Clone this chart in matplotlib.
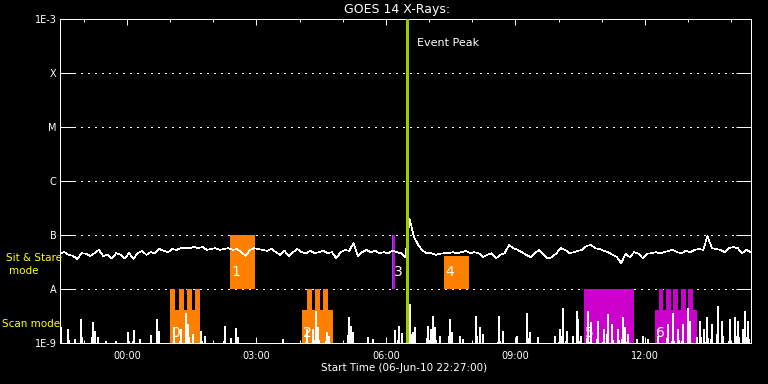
import numpy as np
import matplotlib
matplotlib.use('Agg')
import matplotlib.pyplot as plt

# time axis: hours since 06-Jun-10 22:27:00
start_offset = 93 / 60.0          # 00:00 is 93 min after start
hour_labels = ['00:00', '03:00', '06:00', '09:00', '12:00']
flux_labels = ['1E-9', 'A', 'B', 'C', 'M', 'X', '1E-3']
flux_levels = [1e-9, 1e-8, 1e-7, 1e-6, 1e-5, 1e-4, 1e-3]

# sit & stare light curve, one sample each 6 min, units of 1e-8 W/m^2
sit_flux = [
    4.6, 4.8, 4.3, 4.1, 3.6, 4.6, 4.5, 4.1, 4.6, 5.3,
    4.1, 4.3, 3.7, 4.6, 4.3, 3.7, 4.6, 3.6, 4.6, 5.1,
    4.3, 4.8, 4.6, 5.5, 5.1, 4.8, 5.5, 5.3, 5.7, 5.7,
    5.7, 6.0, 5.7, 6.0, 5.3, 5.5, 5.7, 5.3, 5.5, 5.7,
    5.3, 5.5, 4.8, 4.1, 5.3, 5.7, 5.5, 5.3, 5.1, 5.5,
    4.8, 4.3, 5.1, 4.1, 4.8, 5.5, 4.8, 4.6, 5.1, 4.6,
    4.8, 5.1, 4.6, 4.8, 3.7, 4.8, 5.3, 5.1, 7.1, 4.1,
    4.8, 5.3, 4.8, 5.1, 4.6, 4.8, 4.6, 5.1, 4.8, 4.6,
    3.9, 19.8, 9.2, 6.5, 5.1, 4.6, 4.6, 4.3, 4.5, 4.6,
    4.6, 4.8, 4.6, 4.8, 5.1, 4.6, 4.8, 4.6, 3.9, 4.3,
    4.6, 3.7, 4.3, 4.6, 6.5, 5.7, 5.3, 4.8, 4.3, 3.9,
    4.6, 5.3, 4.3, 3.7, 3.9, 4.6, 5.7, 5.3, 4.6, 4.8,
    5.1, 5.3, 6.3, 6.5, 5.7, 5.5, 5.1, 4.8, 4.3, 3.9,
    3.0, 4.5, 3.9, 4.8, 4.5, 3.7, 4.5, 4.6, 4.8, 4.6,
    4.8, 5.1, 5.3, 4.8, 4.6, 5.1, 4.8, 5.3, 5.5, 5.3,
    9.6, 5.7, 5.5, 5.3, 4.8, 5.7, 6.0, 5.7, 4.6, 5.3, 4.8,
]

# scan mode spikes: (hour, peak in units of 1e-9 W/m^2)
scan_peaks = [
    (0.02, 1.90), (0.19, 1.74), (0.35, 1.14), (0.49, 2.67), (0.76, 2.35),
    (0.81, 1.60), (0.88, 1.24), (1.07, 1.04), (1.30, 1.04), (1.58, 1.53),
    (1.71, 1.67), (1.85, 1.14), (2.11, 1.35), (2.25, 2.67), (2.29, 1.60),
    (2.64, 1.90), (2.80, 1.74), (2.92, 3.44), (2.97, 2.15), (3.08, 1.41),
    (3.27, 1.60), (3.36, 1.29), (3.82, 1.98), (3.96, 1.19), (4.08, 1.82),
    (4.12, 1.24), (5.17, 1.14), (5.72, 1.74), (5.86, 1.74), (5.93, 3.75),
    (5.98, 1.90), (6.18, 1.53), (6.23, 1.29), (6.69, 2.90), (6.74, 1.98),
    (6.79, 1.53), (7.13, 1.24), (7.25, 1.14), (7.76, 1.67), (7.85, 1.98),
    (7.92, 1.47), (8.06, 10.9), (8.11, 5.05), (8.18, 1.53), (8.22, 1.90),
    (8.52, 1.98), (8.59, 1.74), (8.64, 3.03), (8.69, 1.90), (8.80, 1.29),
    (9.03, 2.67), (9.08, 1.53), (9.27, 1.29), (9.34, 1.14), (9.64, 3.03),
    (9.73, 1.90), (9.80, 1.41), (10.17, 3.03), (10.26, 1.60), (10.59, 1.29),
    (10.82, 3.44), (10.89, 1.53), (11.07, 1.24), (11.47, 1.29), (11.58, 1.74),
    (11.65, 4.26), (11.74, 1.60), (11.88, 1.29), (11.98, 3.75), (12.00, 2.67),
    (12.07, 1.29), (12.23, 3.75), (12.30, 2.35), (12.46, 2.45), (12.60, 1.74),
    (12.69, 3.30), (12.79, 2.15), (12.93, 1.74), (13.04, 2.90), (13.09, 1.90),
    (13.16, 1.41), (13.37, 1.14), (13.50, 1.29), (13.62, 1.14), (13.85, 1.29),
    (14.08, 2.15), (14.20, 3.44), (14.32, 1.74), (14.43, 2.15), (14.55, 4.26),
    (14.59, 2.45), (14.76, 1.24), (14.83, 2.45), (14.92, 1.74), (14.99, 2.90),
    (15.10, 2.15), (15.24, 4.64), (15.34, 2.45), (15.52, 2.67), (15.64, 2.90),
    (15.71, 2.45), (15.82, 1.74), (15.87, 3.75), (15.94, 2.45),
]

event_peak = 8.03

# sit & stare windows
sit_labels = ['1', '3', '4']
sit_start = [3.938, 7.697, 8.895]
sit_end = [4.517, 7.760, 9.474]
sit_top = [1e-7, 1e-7, 4.08e-8]

# scan windows
scan_labels = ['0', '2', '5', '6']
scan_start = [2.548, 5.606, 12.138, 13.783]
scan_end = [3.243, 6.324, 13.296, 14.755]
scan_base = [4.08e-9, 4.08e-9, 1e-8, 4.08e-9]
scan_teeth = [
    [(2.548, 2.664), (2.757, 2.872), (2.942, 3.058), (3.127, 3.243)],
    [(5.722, 5.837), (5.907, 6.023), (6.092, 6.208)],
    [],
    [(13.876, 13.968), (14.038, 14.153), (14.200, 14.316), (14.385, 14.501), (14.547, 14.663)],
]

orange = '#ff8000'
magenta = '#cc00cc'
box_colors = {'0': orange, '1': orange, '2': orange, '3': magenta,
              '4': orange, '5': magenta, '6': magenta}

plt.rcParams['lines.antialiased'] = False
plt.rcParams['patch.antialiased'] = False
lw = 0.7  # ~1 pixel

fig = plt.figure(figsize=(7.68, 3.84), dpi=100, facecolor='black')
ax = fig.add_axes([60 / 768, 41 / 384, 690.7 / 768, 324 / 384], facecolor='black')
ax.set_yscale('log')
ax.set_ylim(1e-9, 1e-3)
ax.set_xlim(0, 16)

# dotted grid
for lev in flux_levels[1:-1]:
    ax.axhline(lev, color='white', lw=lw, ls=(0, (1.4, 6)), zorder=1)

# sit & stare boxes
for lab, t0, t1, top in zip(sit_labels, sit_start, sit_end, sit_top):
    ax.bar(t0, top - 1e-8, bottom=1e-8, width=t1 - t0, align='edge',
           color=box_colors[lab], lw=0, zorder=2)
    ax.text(t0 + 0.03, 2.07e-8, lab, color='white', fontsize=10,
            ha='left', va='center', zorder=5)
# blue edge on box 3
ax.bar(sit_start[1], 1e-7 - 1e-8, bottom=1e-8, width=0.023, align='edge',
       color='#6060ff', lw=0, zorder=2)

# scan boxes
for lab, t0, t1, base, teeth in zip(scan_labels, scan_start, scan_end, scan_base, scan_teeth):
    ax.bar(t0, base - 1e-9, bottom=1e-9, width=t1 - t0, align='edge',
           color=box_colors[lab], lw=0, zorder=2)
    for a, b in teeth:
        ax.bar(a, 1e-8 - base, bottom=base, width=b - a, align='edge',
               color=box_colors[lab], lw=0, zorder=2)
    ax.text(t0 + 0.03, 1.5e-9, lab, color='white', fontsize=10,
            ha='left', va='center', zorder=5)

# light curves
sit_t = np.linspace(0, 16, len(sit_flux))
ax.plot(sit_t, np.array(sit_flux) * 1e-8, color='white', lw=0.45, zorder=3)

scan_x, scan_y = [], []
for t, f in scan_peaks:
    scan_x += [t - 0.02, t, t + 0.02]
    scan_y += [0.8e-9, f * 1e-9, 0.8e-9]
ax.plot(scan_x, scan_y, color='white', lw=0.45, zorder=3)

# event peak
ax.axvline(event_peak, color='#9acd00', lw=2.0, zorder=4)
ax.text(event_peak + 0.24, 0.926, 'Event Peak', color='white', fontsize=8,
        ha='left', va='center', transform=ax.get_xaxis_transform())

# axes styling
for sp in ax.spines.values():
    sp.set_color('white')
    sp.set_linewidth(lw)
ax.set_xticks([start_offset + 3 * i for i in range(len(hour_labels))])
ax.set_xticklabels(hour_labels)
ax.set_xticks([start_offset - 1 + i for i in range(17) if start_offset - 1 + i < 16], minor=True)
ax.set_yticks(flux_levels)
ax.set_yticklabels(flux_labels)
ax.yaxis.set_minor_locator(matplotlib.ticker.NullLocator())
ax.tick_params(axis='x', which='major', direction='in', length=4.3, width=lw,
               top=True, bottom=True, colors='white', labelsize=7, pad=6)
ax.tick_params(axis='x', which='minor', direction='in', length=2.2, width=lw,
               top=True, bottom=True, colors='white')
ax.tick_params(axis='y', which='major', direction='in', length=10.8, width=lw,
               left=True, right=True, colors='white', labelsize=7, pad=2.5)

fig.text(397 / 768, 1 - 9 / 384, 'GOES 14 X-Rays:', color='white', fontsize=9,
         ha='center', va='center')
fig.text(404 / 768, 1 - 368 / 384, 'Start Time (06-Jun-10 22:27:00)', color='white',
         fontsize=7.5, ha='center', va='center')
fig.text(34 / 768, 1 - 258 / 384, 'Sit & Stare', color='yellow', fontsize=7.5,
         ha='center', va='center')
fig.text(24 / 768, 1 - 271 / 384, 'mode', color='yellow', fontsize=7.5,
         ha='center', va='center')
fig.text(2 / 768, 1 - 324 / 384, 'Scan mode', color='yellow', fontsize=7.5,
         ha='left', va='center')

fig.savefig('out.png', dpi=100, facecolor='black')
